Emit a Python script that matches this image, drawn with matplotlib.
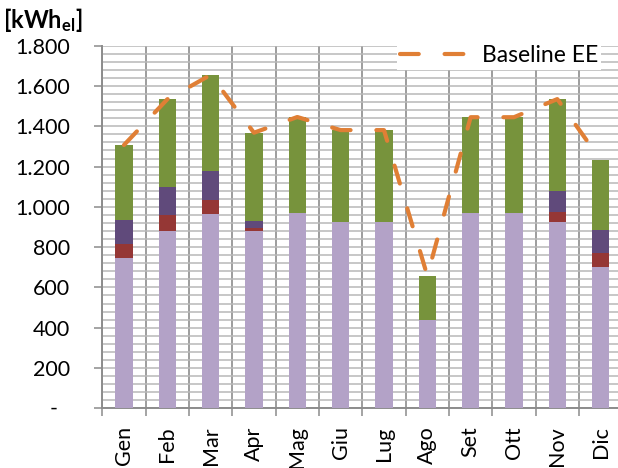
import matplotlib
matplotlib.use("Agg")
import matplotlib.pyplot as plt
import numpy as np
from matplotlib.ticker import FixedLocator, MultipleLocator, NullFormatter, FixedFormatter
from matplotlib.lines import Line2D

plt.rcParams['font.family'] = ['Lato', 'DejaVu Sans']
plt.rcParams['mathtext.fontset'] = 'custom'
plt.rcParams['mathtext.rm'] = 'Lato'
plt.rcParams['mathtext.bf'] = 'Lato:bold'

# Monthly electricity consumption, stacked by component [kWh_el]
months = ['Gen', 'Feb', 'Mar', 'Apr', 'Mag', 'Giu', 'Lug', 'Ago', 'Set', 'Ott', 'Nov', 'Dic']
comp_lilac = [748, 880, 966, 882, 968, 923, 923, 438, 968, 968, 923, 703]
comp_red = [69, 78, 70, 11, 0, 0, 0, 0, 0, 0, 53, 69]
comp_purple = [118, 142, 140, 38, 0, 0, 0, 0, 0, 0, 103, 113]
comp_green = [372, 434, 479, 437, 478, 458, 458, 220, 477, 477, 456, 348]
baseline_ee = [1307, 1534, 1655, 1368, 1446, 1381, 1381, 658, 1445, 1445, 1535, 1233]

y_ticks = [0, 200, 400, 600, 800, 1000, 1200, 1400, 1600, 1800]
y_tick_labels = ['', '200', '400', '600', '800', '1.000', '1.200', '1.400', '1.600', '1.800']

colors = ['#B3A2C7', '#953735', '#604A7B', '#77933C']
line_color = '#E07F35'

fig = plt.figure(figsize=(6.18, 4.68), dpi=100)
ax = fig.add_axes([102.3 / 618, (468 - 408.3) / 468, 520 / 618, 362.6 / 468])

x = np.arange(len(months))
bottom = np.zeros(len(months))
for vals, c in zip([comp_lilac, comp_red, comp_purple, comp_green], colors):
    v = np.array(vals, dtype=float)
    ax.bar(x, v, width=0.4, bottom=bottom, color=c, zorder=3, linewidth=0)
    bottom += v

ax.plot(x, baseline_ee, color=line_color, lw=3.0, dashes=(4.5, 6.2),
        dash_capstyle='round', solid_capstyle='round', zorder=4)

ax.set_xlim(-0.5, len(months) - 0.5)
ax.set_ylim(0, 1800)

# y axis: major ticks every 200, minor gridlines every 40
ax.yaxis.set_major_locator(FixedLocator(y_ticks))
ax.yaxis.set_major_formatter(FixedFormatter(y_tick_labels))
ax.yaxis.set_minor_locator(MultipleLocator(40))
ax.tick_params(axis='y', which='major', direction='out', length=6, width=1.1,
               color='#8C8C8C', pad=17, labelsize=15.5)
ax.tick_params(axis='y', which='minor', length=0)
ax.text(-0.085, 0, '-', transform=ax.get_yaxis_transform(), ha='right', va='center',
        fontsize=15.5)

# x axis: ticks at category boundaries, labels at centres
ax.xaxis.set_major_locator(FixedLocator(np.arange(-0.5, len(months), 1.0)))
ax.xaxis.set_major_formatter(NullFormatter())
ax.xaxis.set_minor_locator(FixedLocator(x))
ax.xaxis.set_minor_formatter(FixedFormatter(months))
ax.tick_params(axis='x', which='major', direction='out', length=6, width=1.1, color='#8C8C8C')
ax.tick_params(axis='x', which='minor', length=0, pad=13, labelsize=15.5, labelrotation=90)
for lbl in ax.get_xticklabels(minor=True):
    lbl.set_va('top')

ax.grid(True, axis='y', which='both', color='#B8B8B8', lw=1.1, zorder=0)
ax.grid(True, axis='x', which='major', color='#8C8C8C', lw=1.2, zorder=0)
ax.set_axisbelow(True)

for s in ['top', 'right']:
    ax.spines[s].set_visible(False)
for s in ['left', 'bottom']:
    ax.spines[s].set_color('#8C8C8C')
    ax.spines[s].set_linewidth(1.4)

handle = Line2D([], [], color=line_color, lw=3.0, dashes=(4.5, 6.2), dash_capstyle='round')
leg = fig.legend([handle], ['Baseline EE'], loc='center left',
                 bbox_to_anchor=(397 / 618, (468 - 56) / 468), frameon=True,
                 fontsize=16.5, handlelength=3.0, handletextpad=0.55, borderpad=0.15,
                 borderaxespad=0, fancybox=False)
leg.get_frame().set_edgecolor('none')
leg.get_frame().set_facecolor('white')
leg.get_frame().set_alpha(1)

fig.text(3 / 618, 1 - 6 / 468, r'$\mathbf{[kWh_{el}]}$', fontsize=17,
         ha='left', va='top')

fig.savefig('out.png', dpi=100)
